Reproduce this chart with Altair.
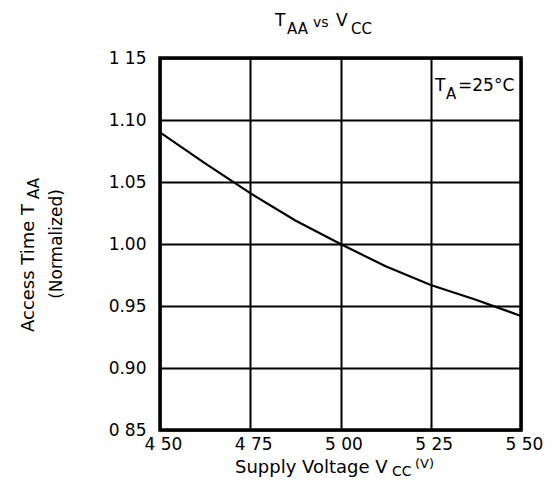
import altair as alt
import pandas as pd

# ---- data ----
vcc = [4.50, 4.625, 4.75, 4.875, 5.00, 5.125, 5.25, 5.375, 5.50]
taa = [1.090, 1.065, 1.041, 1.019, 1.000, 0.982, 0.967, 0.955, 0.942]
x_ticks = [4.50, 4.75, 5.00, 5.25, 5.50]
y_ticks = [0.85, 0.90, 0.95, 1.00, 1.05, 1.10, 1.15]

df = pd.DataFrame({"vcc": vcc, "taa": taa})

FONT = "DejaVu Sans"
W, H = 361, 372
OX, OY = 160, 58  # plot origin on page (incl. 8px margin)

base = alt.Chart(df)

line = base.mark_line(color="black", strokeWidth=2.2).encode(
    x=alt.X("vcc:Q",
            scale=alt.Scale(domain=[4.5, 5.5], nice=False, zero=False),
            axis=alt.Axis(values=x_ticks, grid=True, gridColor="black", gridWidth=2,
                          gridOpacity=1, ticks=False, domain=False, labelFlush=False,
                          labelExpr="replace(format(datum.value, '.2f'), '.', ' ')",
                          labelFontSize=17, labelFont=FONT, labelColor="black",
                          labelPadding=6, labelOffset=3, title=None)),
    y=alt.Y("taa:Q",
            scale=alt.Scale(domain=[0.85, 1.15], nice=False, zero=False),
            axis=alt.Axis(values=y_ticks, grid=True, gridColor="black", gridWidth=2,
                          gridOpacity=1, ticks=False, domain=False,
                          labelExpr="datum.value > 1.14 ? '1 15' : datum.value < 0.86 ? '0 85' : format(datum.value, '.2f')",
                          labelFontSize=17, labelFont=FONT, labelColor="black",
                          labelPadding=14, title=None)),
)

one = pd.DataFrame({"k": [0]})


def txt(s, ax, ay, size, angle=0, align="left"):
    return alt.Chart(one).mark_text(
        text=s, fontSize=size, font=FONT, color="black", align=align,
        baseline="alphabetic", angle=angle
    ).encode(x=alt.value(ax - OX), y=alt.value(ay - OY))


texts = [
    # title  T_AA vs V_CC
    txt("T", 275, 26, 17),
    txt("AA", 287, 34, 15),
    txt("vs", 313, 27, 14),
    txt("V", 336, 26, 17),
    txt("CC", 351, 34, 15),
    # annotation T_A=25°C
    txt("T", 435, 91, 17),
    txt("A", 446, 99, 15),
    txt("=25°C", 458, 91, 17),
    # x title
    txt("Supply Voltage V", 235, 473, 18),
    txt("CC", 392, 476, 14),
    txt("(V)", 415, 468, 13),
    # y title
    txt("Access Time T", 34, 332, 18, angle=270),
    txt("AA", 39, 199, 15, angle=270),
    txt("(Normalized)", 62, 244, 17, angle=270, align="center"),
]

chart = alt.layer(line, *texts).properties(
    width=W, height=H,
    autosize=alt.AutoSizeParams(type="none"),
    padding={"left": OX - 8, "top": OY - 8, "right": 536 - (OX - 8) - W,
             "bottom": 471 - (OY - 8) - H},
).configure_view(stroke="black", strokeWidth=3.5)

chart.save("out.html", embed_options={"renderer": "svg", "actions": False})
